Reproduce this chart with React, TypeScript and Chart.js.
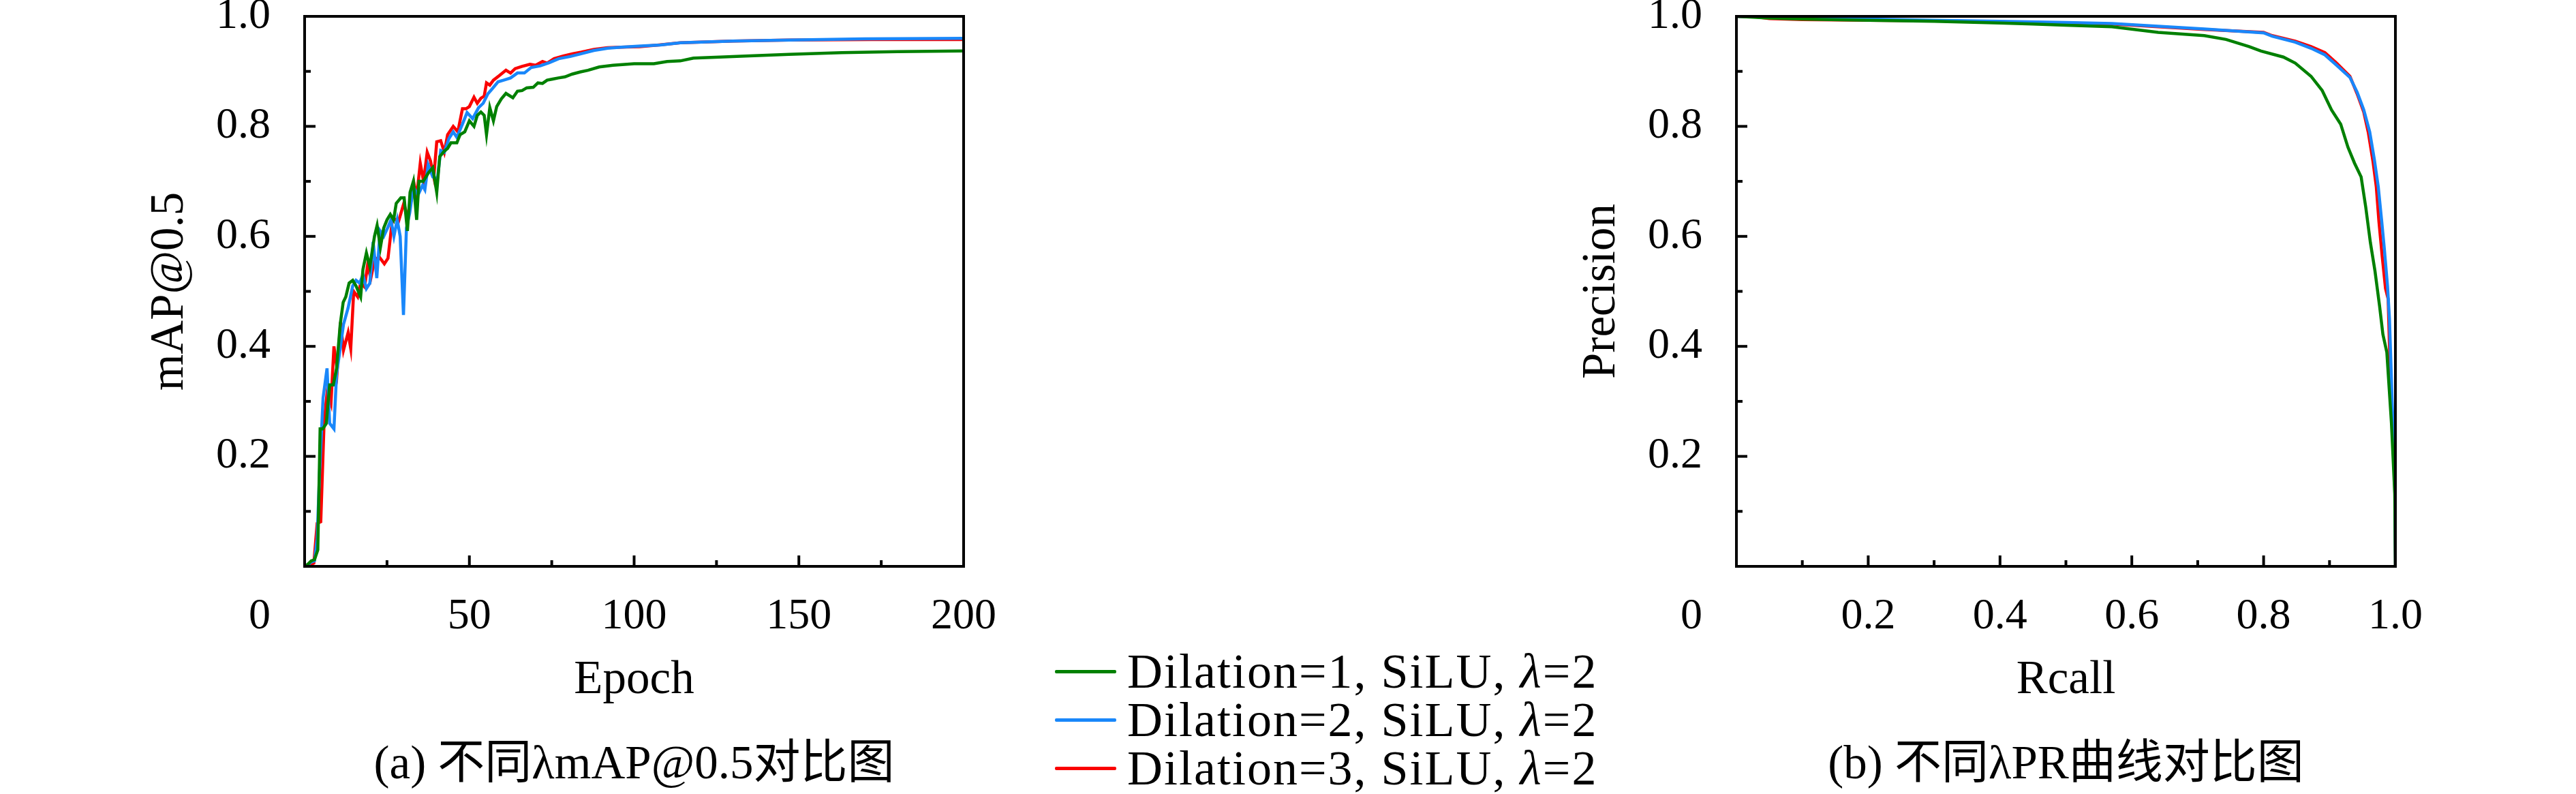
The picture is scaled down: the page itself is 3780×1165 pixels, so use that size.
import { useEffect, useRef } from 'react';
import { Chart, registerables } from 'chart.js';

Chart.register(...registerables);

const SERIF = "'Liberation Serif', 'Noto Sans CJK SC', serif";

const seriesNames = ['Dilation=1, SiLU, λ=2', 'Dilation=2, SiLU, λ=2', 'Dilation=3, SiLU, λ=2'];
const seriesColors = ['rgb(0,128,0)', 'rgb(25,135,250)', 'rgb(250,0,0)'];

// (a) mAP@0.5 per epoch
const epochD1 = [0, 1, 2, 3, 4, 4.7, 5.5, 6.6, 7, 7.6, 8.7, 9.7, 10.8, 11.7, 12.5, 13.5, 14.6, 15.6, 17, 17.7, 18.75, 19.8, 21.2, 22, 23, 24, 25, 26, 27, 27.8, 29.2, 30.2, 31.2, 32, 33, 34, 34.7, 36, 37.5, 38.9, 40.1, 41, 42.4, 43.4, 44.4, 46.2, 47.2, 48.6, 50, 51.4, 52.4, 53.5, 54.5, 55.2, 56.2, 57.3, 58.3, 59.7, 61.1, 63.2, 64.6, 66, 67.4, 69.4, 70.8, 72.2, 73.6, 75.3, 77, 79, 81.2, 83.7, 86, 89.4, 93.6, 100, 106, 110, 114, 118, 126, 135, 147, 163, 180, 200];
const mapD1 = [0, 0.004, 0.01, 0.012, 0.03, 0.25, 0.25, 0.26, 0.29, 0.33, 0.33, 0.36, 0.44, 0.48, 0.49, 0.515, 0.52, 0.51, 0.49, 0.54, 0.57, 0.545, 0.6, 0.62, 0.58, 0.615, 0.63, 0.64, 0.63, 0.66, 0.67, 0.67, 0.61, 0.68, 0.7, 0.63, 0.7, 0.7, 0.715, 0.725, 0.68, 0.745, 0.755, 0.76, 0.77, 0.77, 0.785, 0.79, 0.81, 0.8, 0.82, 0.826, 0.82, 0.785, 0.834, 0.81, 0.836, 0.85, 0.86, 0.852, 0.864, 0.865, 0.87, 0.871, 0.879, 0.878, 0.884, 0.886, 0.888, 0.89, 0.895, 0.899, 0.902, 0.908, 0.911, 0.914, 0.914, 0.918, 0.919, 0.924, 0.926, 0.928, 0.931, 0.934, 0.936, 0.937];

const epochD2 = [0, 1, 2, 3, 3.8, 4.5, 5.6, 6.8, 7.6, 8.9, 9.7, 10.8, 11.8, 13.2, 14.6, 15.6, 16.7, 17.7, 18.75, 19.8, 20.8, 21.9, 22.9, 24, 25.3, 26.2, 27.1, 28.1, 29, 30, 30.9, 31.9, 33, 34.4, 35.8, 36.5, 37.5, 38.9, 40.3, 41.3, 42.4, 43.8, 45.1, 46.2, 47.9, 49.3, 51, 52.8, 54.2, 55.6, 56.9, 58.7, 60.4, 62.5, 64.6, 66.7, 68.75, 71.5, 74.3, 77.1, 80.6, 83.3, 87.8, 92, 96, 102, 108, 114, 130, 147, 170, 200];
const mapD2 = [0, 0.003, 0.008, 0.01, 0.05, 0.165, 0.306, 0.36, 0.26, 0.25, 0.35, 0.396, 0.44, 0.47, 0.51, 0.52, 0.515, 0.53, 0.505, 0.515, 0.59, 0.524, 0.61, 0.6, 0.617, 0.63, 0.6, 0.63, 0.6, 0.457, 0.615, 0.643, 0.69, 0.675, 0.693, 0.685, 0.73, 0.708, 0.704, 0.756, 0.753, 0.778, 0.79, 0.78, 0.804, 0.825, 0.814, 0.834, 0.842, 0.859, 0.868, 0.881, 0.884, 0.888, 0.897, 0.897, 0.907, 0.91, 0.916, 0.923, 0.927, 0.931, 0.938, 0.942, 0.944, 0.946, 0.948, 0.952, 0.955, 0.957, 0.959, 0.96];

const epochD3 = [0, 1, 2, 2.8, 3.8, 4.9, 5.9, 6.9, 8, 8.9, 9.9, 10.9, 11.8, 13.2, 14, 14.9, 16.1, 17, 18.2, 19.1, 20.1, 21.2, 22.6, 24.2, 25.3, 26.7, 28.5, 30.1, 31.3, 33.3, 34, 35.1, 36.1, 37.2, 38.2, 39.2, 40.1, 41.3, 42.4, 43.4, 45.1, 46.5, 47.9, 49, 50, 51.4, 52.4, 53.5, 54.5, 55.2, 56.2, 57.3, 59, 61.1, 62.5, 63.9, 66, 68.4, 70.1, 72.2, 73.6, 75.7, 78.5, 81.3, 84, 87.8, 91.9, 96, 101.7, 107.5, 114, 130, 147, 172, 200];
const mapD3 = [0, 0.002, 0.004, 0.006, 0.078, 0.081, 0.26, 0.32, 0.297, 0.4, 0.357, 0.444, 0.393, 0.425, 0.396, 0.5, 0.49, 0.515, 0.508, 0.547, 0.524, 0.556, 0.563, 0.55, 0.56, 0.634, 0.627, 0.66, 0.635, 0.693, 0.672, 0.733, 0.7, 0.753, 0.737, 0.708, 0.772, 0.774, 0.753, 0.785, 0.8, 0.79, 0.832, 0.832, 0.836, 0.853, 0.842, 0.851, 0.855, 0.879, 0.875, 0.884, 0.892, 0.902, 0.897, 0.905, 0.909, 0.913, 0.911, 0.918, 0.915, 0.923, 0.928, 0.932, 0.935, 0.94, 0.943, 0.944, 0.945, 0.948, 0.952, 0.955, 0.957, 0.958, 0.958];

// (b) precision-recall
const recallD1 = [0, 0.05, 0.1, 0.2, 0.3, 0.4, 0.45, 0.5, 0.57, 0.64, 0.71, 0.743, 0.778, 0.796, 0.83, 0.848, 0.872, 0.889, 0.903, 0.917, 0.928, 0.938, 0.948, 0.955, 0.962, 0.969, 0.976, 0.981, 0.987, 0.994, 0.999, 1.0];
const precisionD1 = [1.0, 0.997, 0.995, 0.993, 0.991, 0.988, 0.986, 0.984, 0.981, 0.971, 0.965, 0.958, 0.945, 0.937, 0.926, 0.915, 0.891, 0.865, 0.83, 0.804, 0.762, 0.733, 0.708, 0.653, 0.589, 0.537, 0.473, 0.422, 0.389, 0.26, 0.132, 0.0];

const recallD2 = [0, 0.1, 0.2, 0.3, 0.4, 0.5, 0.57, 0.64, 0.71, 0.8, 0.813, 0.848, 0.872, 0.893, 0.91, 0.931, 0.942, 0.952, 0.961, 0.968, 0.974, 0.979, 0.983, 0.988, 0.991, 0.995, 0.999, 1.0];
const precisionD2 = [1.0, 0.997, 0.995, 0.993, 0.991, 0.989, 0.987, 0.982, 0.977, 0.97, 0.964, 0.953, 0.942, 0.93, 0.912, 0.889, 0.862, 0.83, 0.79, 0.74, 0.69, 0.63, 0.58, 0.51, 0.45, 0.3, 0.17, 0.0];

const recallD3 = [0, 0.03, 0.05, 0.1, 0.2, 0.3, 0.4, 0.5, 0.57, 0.64, 0.71, 0.8, 0.813, 0.848, 0.872, 0.893, 0.91, 0.931, 0.942, 0.952, 0.959, 0.966, 0.971, 0.975, 0.98, 0.985, 0.989, 0.992, 0.995, 0.999, 1.0];
const precisionD3 = [1.0, 0.999, 0.996, 0.994, 0.993, 0.992, 0.99, 0.988, 0.986, 0.981, 0.976, 0.971, 0.965, 0.955, 0.945, 0.934, 0.916, 0.891, 0.859, 0.826, 0.788, 0.736, 0.69, 0.627, 0.563, 0.505, 0.486, 0.357, 0.26, 0.165, 0.0];

const unitTickLabels = ['0.2', '0.4', '0.6', '0.8', '1.0'];
const epochTickLabels = ['50', '100', '150', '200'];
const originLabel = '0';

const TICK_FONT = { family: SERIF, size: 64 };
const TEXT_FONT = { family: SERIF, size: 69 };

// box around the plot area, inward tick marks and the shared "0" at the corner
const framePlugin = {
  id: 'frame',
  afterDatasetsDraw(chart: any) {
    const { ctx, chartArea: a, scales } = chart;
    ctx.save();
    ctx.strokeStyle = '#000';
    ctx.lineWidth = 4;
    ctx.strokeRect(a.left, a.top, a.right - a.left, a.bottom - a.top);
    const xs = scales.x;
    xs.ticks.forEach((t: any, i: number) => {
      if (t.value <= xs.min || t.value >= xs.max) return;
      const px = xs.getPixelForValue(t.value);
      const len = i % 2 === 0 ? 16 : 9;
      ctx.beginPath();
      ctx.moveTo(px, a.bottom);
      ctx.lineTo(px, a.bottom - len);
      ctx.stroke();
    });
    const ys = scales.y;
    ys.ticks.forEach((t: any, i: number) => {
      if (t.value <= ys.min || t.value >= ys.max) return;
      const py = ys.getPixelForValue(t.value);
      const len = i % 2 === 0 ? 16 : 9;
      ctx.beginPath();
      ctx.moveTo(a.left, py);
      ctx.lineTo(a.left + len, py);
      ctx.stroke();
    });
    ctx.fillStyle = '#000';
    ctx.font = `${TICK_FONT.size}px ${SERIF}`;
    ctx.textAlign = 'right';
    ctx.textBaseline = 'middle';
    ctx.fillText(originLabel, a.left - 50, a.bottom + 36 + TICK_FONT.size * 0.6);
    ctx.restore();
  },
};

function pickLabel(labels: string[], text: string) {
  return labels.includes(text) ? text : '';
}

type Series = { xs: number[]; ys: number[] };

function PlotChart({
  series,
  xMax,
  xStep,
  xLabel,
  xFormat,
  xLabels,
  yLabel,
  caption,
  left,
}: {
  series: Series[];
  xMax: number;
  xStep: number;
  xLabel: string;
  xFormat: (v: number) => string;
  xLabels: string[];
  yLabel: string;
  caption: string;
  left: number;
}) {
  const canvasRef = useRef<HTMLCanvasElement | null>(null);
  const chartRef = useRef<Chart | null>(null);

  useEffect(() => {
    const ctx = canvasRef.current?.getContext('2d');
    if (!ctx) return;
    if (chartRef.current) chartRef.current.destroy();

    chartRef.current = new Chart(ctx, {
      type: 'line',
      data: {
        datasets: series.map((s, i) => ({
          label: seriesNames[i],
          data: s.xs.map((x, j) => ({ x, y: s.ys[j] })),
          borderColor: seriesColors[i],
          backgroundColor: seriesColors[i],
          borderWidth: 4.5,
          pointRadius: 0,
          tension: 0,
          fill: false,
        })),
      },
      options: {
        animation: false,
        responsive: false,
        color: '#000',
        layout: { padding: { left: 0, top: 24, right: 86, bottom: 0 } },
        plugins: {
          legend: { display: false },
          tooltip: { enabled: false },
          title: {
            display: true,
            text: caption,
            position: 'bottom',
            fullSize: false,
            color: '#000',
            font: { ...TEXT_FONT, weight: 'normal' },
            padding: { top: 0, bottom: 0 },
          },
        },
        scales: {
          x: {
            type: 'linear',
            min: 0,
            max: xMax,
            grid: { display: false, drawTicks: false },
            border: { display: false },
            ticks: {
              stepSize: xStep,
              autoSkip: false,
              maxRotation: 0,
              padding: 36,
              color: '#000',
              font: TICK_FONT,
              callback: (v: any) => pickLabel(xLabels, xFormat(Number(v))),
            },
            title: {
              display: true,
              text: xLabel,
              color: '#000',
              font: TEXT_FONT,
              padding: { top: 0, bottom: 42 },
            },
            afterFit: (s: any) => {
              s.height = 251.2;
              s.paddingLeft = 0;
              s.paddingRight = 0;
              s.paddingTop = 0;
              s.paddingBottom = 0;
            },
          },
          y: {
            type: 'linear',
            min: 0,
            max: 1,
            grid: { display: false, drawTicks: false },
            border: { display: false },
            ticks: {
              stepSize: 0.1,
              autoSkip: false,
              padding: 50,
              color: '#000',
              font: TICK_FONT,
              callback: (v: any) => pickLabel(unitTickLabels, Number(v).toFixed(1)),
            },
            title: {
              display: true,
              text: yLabel,
              color: '#000',
              font: TEXT_FONT,
              padding: { top: 208, bottom: 0 },
            },
            afterFit: (s: any) => {
              s.width = 447;
              s.paddingLeft = 0;
              s.paddingRight = 0;
              s.paddingTop = 0;
              s.paddingBottom = 0;
            },
          },
        },
      },
      plugins: [framePlugin],
    } as any);

    return () => {
      if (chartRef.current) {
        chartRef.current.destroy();
        chartRef.current = null;
      }
    };
  }, [series, xMax, xStep, xLabel, xFormat, xLabels, yLabel, caption]);

  return (
    <canvas
      ref={canvasRef}
      width={1500}
      height={1165}
      style={{ position: 'absolute', left, top: 0, width: 1500, height: 1165 }}
    />
  );
}

const mapSeries: Series[] = [
  { xs: epochD1, ys: mapD1 },
  { xs: epochD2, ys: mapD2 },
  { xs: epochD3, ys: mapD3 },
];
const prSeries: Series[] = [
  { xs: recallD1, ys: precisionD1 },
  { xs: recallD2, ys: precisionD2 },
  { xs: recallD3, ys: precisionD3 },
];
const epochFormat = (v: number) => String(Math.round(v));
const recallFormat = (v: number) => v.toFixed(1);

function LegendLabel({ text }: { text: string }) {
  const parts = text.split('λ');
  return (
    <span>
      {parts.map((p, i) => (
        <span key={i}>
          {i > 0 && <i>λ</i>}
          {p}
        </span>
      ))}
    </span>
  );
}

export default function App() {
  return (
    <div
      style={{
        position: 'absolute',
        left: 0,
        top: 0,
        width: 3780,
        height: 1165,
        background: '#fff',
        overflow: 'hidden',
      }}
    >
      <PlotChart
        series={mapSeries}
        xMax={200}
        xStep={25}
        xLabel="Epoch"
        xFormat={epochFormat}
        xLabels={epochTickLabels}
        yLabel="mAP@0.5"
        caption="(a) 不同λmAP@0.5对比图"
        left={0}
      />
      <PlotChart
        series={prSeries}
        xMax={1}
        xStep={0.1}
        xLabel="Rcall"
        xFormat={recallFormat}
        xLabels={unitTickLabels}
        yLabel="Precision"
        caption="(b) 不同λPR曲线对比图"
        left={2101}
      />
      <div
        style={{
          position: 'absolute',
          left: 1548,
          top: 950,
          fontFamily: SERIF,
          fontSize: 72,
          letterSpacing: 2,
          color: '#000',
        }}
      >
        {seriesNames.map((name, i) => (
          <div key={name} style={{ display: 'flex', alignItems: 'center', height: 71, whiteSpace: 'nowrap' }}>
            <span
              style={{
                display: 'inline-block',
                width: 90,
                height: 5,
                borderRadius: 2,
                background: seriesColors[i],
                marginRight: 16,
              }}
            />
            <LegendLabel text={name} />
          </div>
        ))}
      </div>
    </div>
  );
}
